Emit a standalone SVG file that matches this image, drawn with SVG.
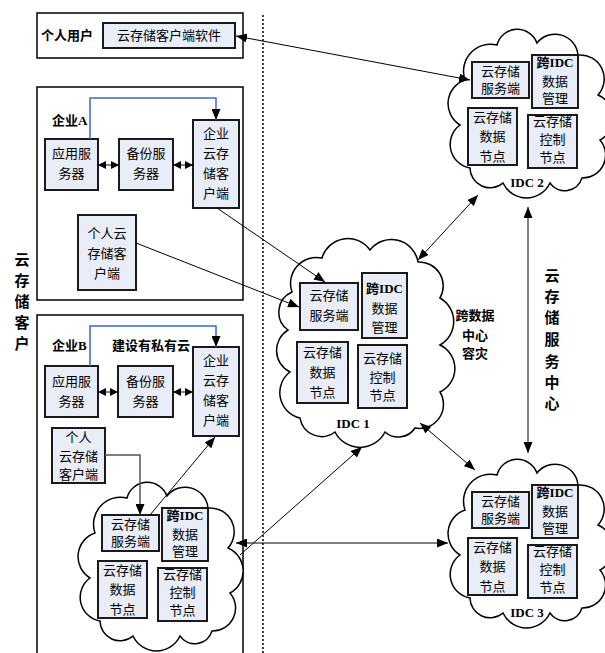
<svg xmlns="http://www.w3.org/2000/svg" width="605" height="653" viewBox="0 0 605 653">
<style>
.box{fill:#e8edf7;stroke:#1a1a1a;stroke-width:2}
.frame{fill:none;stroke:#000;stroke-width:1.5}
.cloud{fill:#fff;stroke:#000;stroke-width:1.5}
.t{font-family:"Liberation Serif","Noto Sans CJK SC",serif;font-size:13px;text-anchor:middle;fill:#000}
.s{text-anchor:start}
.b{font-weight:bold}
.ln{stroke:#000;stroke-width:1;fill:none}
.blue{stroke:#3b6cc4;stroke-width:1.5;fill:none}
.gray{stroke:#555;stroke-width:1.5;fill:none}
.v{font-family:"Noto Sans CJK SC",sans-serif;font-size:15px;font-weight:bold;text-anchor:middle}
</style>
<defs>
<marker id="ah" markerUnits="userSpaceOnUse" markerWidth="11" markerHeight="9" refX="11" refY="4.5" orient="auto-start-reverse"><path d="M0,0 L11,4.5 L0,9 z" fill="#000"/></marker>
<marker id="sh" markerUnits="userSpaceOnUse" markerWidth="8" markerHeight="8" refX="8" refY="4" orient="auto-start-reverse"><path d="M0,0 L8,4 L0,8 z" fill="#000"/></marker>
<path id="cloudShape" d="M465,80 A27,27 0 0 1 497,45 A21,21 0 0 1 537,43 A23,23 0 0 1 578,55 A24,24 0 0 1 598,95 A25,25 0 0 1 600,140 A23,23 0 0 1 582,178 A18,18 0 0 1 550,183 A26,26 0 0 1 503,183 A20,20 0 0 1 470,168 A24,24 0 0 1 460,125 A25,25 0 0 1 465,80 Z"/>
</defs>
<rect width="605" height="653" fill="#fff"/>

<line x1="263" y1="15" x2="263" y2="653" stroke="#000" stroke-width="1.5" stroke-dasharray="2,2"/>

<g id="label-client">
<text class="v" x="22" y="265">云</text>
<text class="v" x="22" y="286">存</text>
<text class="v" x="22" y="307">储</text>
<text class="v" x="22" y="328">客</text>
<text class="v" x="22" y="349">户</text>
</g>
<g id="label-center">
<text class="v" x="552" y="281">云</text>
<text class="v" x="552" y="302">存</text>
<text class="v" x="552" y="323">储</text>
<text class="v" x="552" y="345">服</text>
<text class="v" x="552" y="367">务</text>
<text class="v" x="552" y="388">中</text>
<text class="v" x="552" y="409">心</text>
</g>
<g id="label-dr">
<text class="t b" x="475" y="320" font-size="14">跨数据</text>
<text class="t b" x="475" y="340" font-size="14">中心</text>
<text class="t b" x="475" y="358" font-size="14">容灾</text>
</g>

<g id="personal-user">
<rect class="frame" x="37" y="13" width="206" height="45"/>
<text class="t b" x="67" y="40">个人用户</text>
<rect class="box" x="103" y="23" width="132" height="25"/>
<text class="t" x="169" y="40">云存储客户端软件</text>
</g>

<g id="enterprise-a">
<rect class="frame" x="37" y="87" width="206" height="213"/>
<text class="t s b" x="52" y="125" font-size="14">企业A</text>
<g id="a-app"><rect class="box" x="45" y="139" width="53" height="51"/><text class="t" x="71.5" y="158">应用服</text><text class="t" x="71.5" y="178">务器</text></g>
<g id="a-backup"><rect class="box" x="119" y="139" width="54" height="51"/><text class="t" x="146" y="158">备份服</text><text class="t" x="146" y="178">务器</text></g>
<g id="a-client"><rect class="box" x="193" y="120" width="46" height="88"/><text class="t" x="216" y="138">企业</text><text class="t" x="216" y="158">云存</text><text class="t" x="216" y="178">储客</text><text class="t" x="216" y="198">户端</text></g>
<g id="a-personal"><rect class="box" x="78" y="215" width="58" height="75"/><text class="t" x="107" y="238">个人云</text><text class="t" x="107" y="258">存储客</text><text class="t" x="107" y="278">户端</text></g>
</g>

<g id="enterprise-b">
<rect class="frame" x="37" y="315" width="206" height="345"/>
<text class="t s b" x="52" y="350" font-size="14">企业B</text>
<text class="t b" x="151" y="350" font-size="12">建设有私有云</text>
<g id="b-app"><rect class="box" x="45" y="366" width="53" height="51"/><text class="t" x="71.5" y="386">应用服</text><text class="t" x="71.5" y="406">务器</text></g>
<g id="b-backup"><rect class="box" x="118" y="366" width="55" height="51"/><text class="t" x="145.5" y="386">备份服</text><text class="t" x="145.5" y="406">务器</text></g>
<g id="b-client"><rect class="box" x="193" y="347" width="46" height="89"/><text class="t" x="216" y="365">企业</text><text class="t" x="216" y="385">云存</text><text class="t" x="216" y="405">储客</text><text class="t" x="216" y="425">户端</text></g>
<g id="b-personal"><rect class="box" x="52" y="428" width="53" height="55"/><text class="t" x="78.5" y="442">个人</text><text class="t" x="78.5" y="461">云存储</text><text class="t" x="78.5" y="479">客户端</text></g>
</g>

<g id="private-cloud" transform="translate(-370,453)">
<use href="#cloudShape" class="cloud"/>
<rect class="box" x="472" y="62" width="57" height="36"/><text class="t" x="500.5" y="76">云存储</text><text class="t" x="500.5" y="93">服务端</text>
<rect class="box" x="532" y="55" width="46" height="53"/><text class="t b" x="555" y="67">跨IDC</text><text class="t" x="555" y="86">数据</text><text class="t" x="555" y="103">管理</text>
<rect class="box" x="468" y="108" width="49" height="57"/><text class="t" x="492.5" y="122">云存储</text><text class="t" x="492.5" y="141">数据</text><text class="t" x="492.5" y="161">节点</text>
<rect class="box" x="528" y="115" width="49" height="53"/><text class="t" x="552.5" y="126">云存储</text><text class="t" x="552.5" y="144">控制</text><text class="t" x="552.5" y="162">节点</text>
</g>

<g id="idc2">
<use href="#cloudShape" class="cloud"/>
<rect class="box" x="472" y="62" width="57" height="36"/><text class="t" x="500.5" y="76">云存储</text><text class="t" x="500.5" y="93">服务端</text>
<rect class="box" x="532" y="55" width="46" height="53"/><text class="t b" x="555" y="67">跨IDC</text><text class="t" x="555" y="86">数据</text><text class="t" x="555" y="103">管理</text>
<rect class="box" x="468" y="108" width="49" height="57"/><text class="t" x="492.5" y="122">云存储</text><text class="t" x="492.5" y="141">数据</text><text class="t" x="492.5" y="161">节点</text>
<rect class="box" x="528" y="115" width="49" height="53"/><text class="t" x="552.5" y="126">云存储</text><text class="t" x="552.5" y="144">控制</text><text class="t" x="552.5" y="162">节点</text>
<text class="t b" x="527" y="187">IDC 2</text>
</g>

<g id="idc3" transform="translate(0,430)">
<use href="#cloudShape" class="cloud"/>
<rect class="box" x="472" y="62" width="57" height="36"/><text class="t" x="500.5" y="76">云存储</text><text class="t" x="500.5" y="93">服务端</text>
<rect class="box" x="532" y="55" width="46" height="53"/><text class="t b" x="555" y="67">跨IDC</text><text class="t" x="555" y="86">数据</text><text class="t" x="555" y="103">管理</text>
<rect class="box" x="468" y="108" width="49" height="57"/><text class="t" x="492.5" y="122">云存储</text><text class="t" x="492.5" y="141">数据</text><text class="t" x="492.5" y="161">节点</text>
<rect class="box" x="528" y="115" width="49" height="53"/><text class="t" x="552.5" y="126">云存储</text><text class="t" x="552.5" y="144">控制</text><text class="t" x="552.5" y="162">节点</text>
<text class="t b" x="527" y="187">IDC 3</text>
</g>

<g id="idc1">
<path class="cloud" d="M292,292 A26,26 0 0 1 322,258 A27,27 0 0 1 370,250 A27,27 0 0 1 418,262 A24,24 0 0 1 440,298 A27,27 0 0 1 440,345 A26,26 0 0 1 440,392 A24,24 0 0 1 415,428 A20,20 0 0 1 385,432 A28,28 0 0 1 335,432 A22,22 0 0 1 300,418 A26,26 0 0 1 290,372 A24,24 0 0 1 288,330 A22,22 0 0 1 292,292 Z"/>
<rect class="box" x="300" y="283" width="58" height="47"/><text class="t" x="329" y="300">云存储</text><text class="t" x="329" y="320">服务端</text>
<rect class="box" x="362" y="273" width="45" height="65"/><text class="t b" x="384.5" y="293">跨IDC</text><text class="t" x="384.5" y="313">数据</text><text class="t" x="384.5" y="332">管理</text>
<rect class="box" x="297" y="342" width="51" height="61"/><text class="t" x="322.5" y="357">云存储</text><text class="t" x="322.5" y="377">数据</text><text class="t" x="322.5" y="397">节点</text>
<rect class="box" x="358" y="345" width="49" height="63"/><text class="t" x="382.5" y="363">云存储</text><text class="t" x="382.5" y="382">控制</text><text class="t" x="382.5" y="400">节点</text>
<text class="t b" x="353" y="428">IDC 1</text>
</g>

<g id="connectors">
<line class="ln" x1="236" y1="36" x2="470" y2="80" marker-start="url(#ah)" marker-end="url(#ah)"/>
<path class="blue" d="M90,139 V98 H216 V120" marker-end="url(#ah)"/>
<line class="ln" x1="98" y1="165" x2="119" y2="165" stroke-width="1.5" marker-start="url(#sh)" marker-end="url(#sh)"/>
<line class="ln" x1="173" y1="165" x2="193" y2="165" stroke-width="1.5" marker-start="url(#sh)" marker-end="url(#sh)"/>
<line class="ln" x1="217" y1="208" x2="325" y2="282" marker-end="url(#ah)"/>
<line class="ln" x1="136" y1="243" x2="299" y2="307" marker-end="url(#ah)"/>
<path class="blue" d="M90,366 V326 H216 V347" marker-end="url(#ah)"/>
<line class="ln" x1="98" y1="392" x2="118" y2="392" stroke-width="1.5" marker-start="url(#sh)" marker-end="url(#sh)"/>
<line class="ln" x1="173" y1="392" x2="193" y2="392" stroke-width="1.5" marker-start="url(#sh)" marker-end="url(#sh)"/>
<path class="gray" d="M105,455 H140 V515" marker-end="url(#ah)"/>
<line class="ln" x1="150" y1="515" x2="215" y2="437" marker-end="url(#ah)"/>
<line class="ln" x1="236" y1="543" x2="448" y2="543" marker-start="url(#ah)" marker-end="url(#ah)"/>
<line class="ln" x1="240" y1="555" x2="362" y2="447" marker-end="url(#ah)"/>
<line class="ln" x1="418" y1="260" x2="478" y2="195" marker-start="url(#ah)" marker-end="url(#ah)"/>
<line class="ln" x1="420" y1="423" x2="475" y2="470" marker-start="url(#ah)" marker-end="url(#ah)"/>
<line class="ln" x1="528" y1="207" x2="528" y2="453" marker-start="url(#ah)" marker-end="url(#ah)"/>
</g>
</svg>
